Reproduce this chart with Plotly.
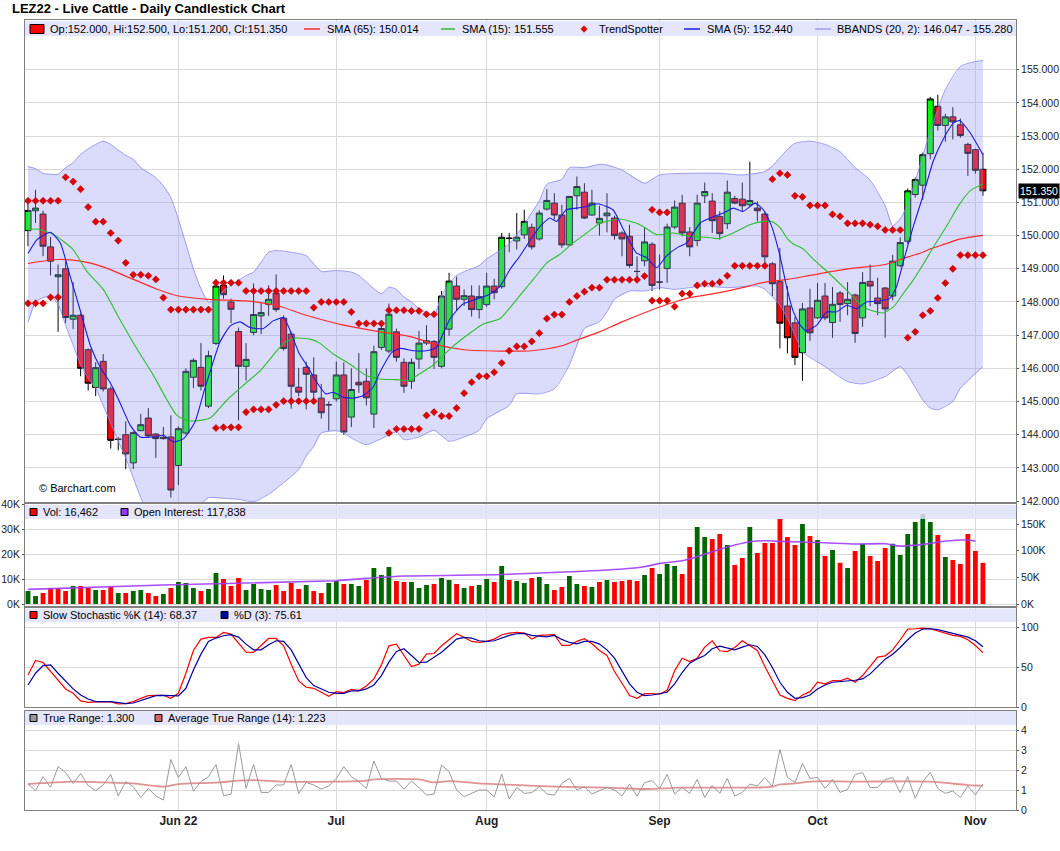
import plotly.graph_objects as go

# LEZ22 Live Cattle daily bars, 3 May 2022 .. 2 Nov 2022 (x = trading-day index)
month_ticks = [20, 41, 61, 84, 105, 126]
month_labels = ["Jun 22", "Jul", "Aug", "Sep", "Oct", "Nov"]

opens = [150.15, 150.75, 150.65, 149.66, 148.76, 149.0, 147.48, 147.6, 146.56, 145.42,
         146.21, 145.38, 143.86, 144.0, 143.15, 144.12, 144.5, 144.02, 143.88, 143.93,
         143.07, 144.05, 145.73, 146.03, 144.86, 146.75, 148.5, 148.0, 147.11, 146.06,
         147.08, 147.58, 147.92, 148.26, 147.51, 147.03, 145.43, 146.03, 145.8, 145.1,
         144.9, 145.08, 145.8, 144.53, 145.58, 145.61, 144.62, 146.63, 146.52, 147.1,
         146.18, 145.61, 146.28, 146.76, 146.81, 146.06, 147.18, 148.48, 148.08, 148.18,
         147.77, 147.92, 148.48, 148.46, 149.92, 149.84, 150.02, 150.25, 149.9, 150.8,
         150.98, 150.62, 149.72, 151.2, 151.31, 150.62, 150.38, 150.6, 150.53, 150.08,
         149.98, 148.92, 149.24, 149.74, 148.6, 149.01, 150.26, 150.98, 150.11, 149.85,
         151.2, 151.04, 150.58, 150.36, 151.12, 151.1, 150.93, 150.83, 150.65, 149.15,
         148.61, 147.88, 147.37, 146.47, 147.82, 147.52, 148.18, 147.38, 148.27, 147.95,
         148.21, 147.52, 148.62, 148.12, 148.42, 148.18, 149.09, 149.83, 151.24, 151.52,
         152.47, 153.9, 153.32, 153.58, 153.34, 152.75, 152.59, 152.0]
highs = [150.98, 151.38, 150.75, 149.96, 149.13, 149.23, 148.6, 147.65, 146.6, 146.18,
         146.43, 145.45, 143.93, 144.4, 144.1, 144.63, 144.8, 144.05, 144.23, 144.58,
         144.25, 146.0, 146.3, 146.76, 146.53, 148.68, 148.8, 148.1, 147.23, 146.76,
         148.56, 147.98, 148.5, 148.83, 147.6, 147.1, 146.01, 146.2, 146.33, 145.53,
         145.0, 146.2, 146.18, 146.0, 146.46, 146.0, 146.68, 147.43, 147.95, 147.2,
         146.3, 146.3, 147.13, 147.3, 146.85, 148.33, 148.88, 148.76, 148.38, 148.5,
         148.5, 148.88, 148.7, 150.08, 150.08, 150.68, 150.78, 150.36, 150.76, 151.4,
         151.28, 150.93, 151.2, 151.78, 151.58, 151.38, 150.9, 151.28, 150.6, 150.13,
         150.33, 149.38, 150.23, 149.8, 149.43, 150.36, 151.06, 151.23, 150.26, 151.23,
         151.6, 151.28, 150.73, 151.66, 151.2, 151.6, 152.23, 151.03, 150.73, 149.2,
         149.63, 148.48, 147.55, 147.97, 148.4, 148.57, 148.57, 148.45, 148.33, 148.6,
         148.25, 148.9, 149.13, 148.73, 148.45, 149.42, 149.95, 151.42, 151.75, 152.5,
         154.18, 154.25, 153.67, 153.87, 153.53, 152.8, 152.62, 152.5]
lows = [149.68, 150.38, 149.38, 148.8, 147.1, 147.36, 147.18, 145.76, 145.33, 145.16,
        145.3, 143.58, 143.53, 142.96, 142.96, 144.1, 143.9, 143.3, 143.85, 142.1,
        142.48, 144.0, 145.4, 145.33, 144.8, 146.7, 148.1, 147.36, 144.43, 145.63,
        147.0, 147.03, 147.58, 147.7, 146.53, 144.78, 145.16, 144.76, 145.08, 144.48,
        144.12, 145.0, 144.0, 144.23, 145.26, 144.88, 144.2, 146.55, 146.45, 146.2,
        145.26, 145.38, 145.98, 146.7, 145.98, 146.0, 146.98, 147.73, 147.88, 147.56,
        147.5, 147.85, 148.08, 148.4, 149.5, 149.58, 149.9, 149.58, 149.85, 150.75,
        150.48, 149.63, 149.7, 150.78, 150.5, 150.6, 150.0, 150.1, 149.88, 149.38,
        149.03, 148.63, 149.08, 148.33, 148.38, 148.58, 150.2, 149.98, 149.38, 149.68,
        150.98, 150.08, 149.88, 150.2, 150.95, 150.73, 150.88, 150.43, 149.18, 148.18,
        146.6, 146.45, 146.1, 145.62, 146.83, 147.5, 147.45, 146.92, 147.4, 147.6,
        146.77, 147.25, 147.87, 147.6, 146.92, 148.05, 149.05, 149.75, 151.15, 151.08,
        152.3, 153.17, 152.83, 152.9, 152.95, 151.8, 151.87, 151.2]
closes = [150.76, 150.83, 149.68, 149.23, 148.82, 147.53, 147.6, 146.0, 145.55, 146.02,
          145.38, 143.83, 143.86, 143.42, 144.06, 144.3, 143.96, 143.88, 143.92, 142.33,
          144.18, 145.91, 146.24, 145.46, 146.38, 148.48, 148.22, 147.78, 146.06, 146.27,
          147.62, 147.68, 148.08, 147.77, 146.6, 145.46, 145.28, 145.82, 145.28, 144.66,
          144.9, 145.8, 144.08, 145.36, 145.5, 145.11, 146.5, 147.2, 147.63, 146.33,
          145.46, 146.18, 146.76, 146.83, 146.33, 148.18, 148.63, 148.08, 148.19, 147.77,
          148.16, 148.48, 148.28, 149.95, 149.92, 149.95, 150.43, 149.66, 150.68, 151.06,
          150.62, 149.72, 151.18, 151.48, 150.53, 150.98, 150.52, 150.68, 150.0, 149.9,
          149.1, 148.92, 149.81, 148.5, 148.6, 150.26, 150.86, 150.08, 149.66, 150.98,
          151.33, 150.45, 150.06, 151.31, 150.98, 150.9, 151.06, 150.75, 149.36, 148.55,
          147.36, 146.92, 146.33, 147.79, 147.07, 148.05, 147.52, 147.93, 147.92, 148.08,
          147.05, 148.59, 148.48, 147.95, 147.79, 149.23, 149.79, 151.35, 151.69, 152.44,
          154.12, 153.32, 153.58, 153.43, 153.02, 152.48, 151.97, 151.35]

# moving averages and Bollinger bands (x position, value)
sma65_x = [0, 4, 7, 10, 13, 17, 20, 24, 29, 33, 37, 42, 46, 51, 54, 58, 63, 67, 71, 73,
           76, 79, 84, 86, 88, 92, 95, 97, 99, 101, 104, 109, 114, 116, 119, 120, 122, 124, 127]
sma65_y = [149.16, 149.28, 149.23, 149.06, 148.78, 148.4, 148.18, 148.08, 148.03, 147.9,
           147.6, 147.3, 147.13, 146.95, 146.73, 146.56, 146.52, 146.53, 146.68, 146.85,
           147.1, 147.4, 147.85, 148.0, 148.13, 148.28, 148.43, 148.55, 148.63, 148.68,
           148.8, 149.0, 149.13, 149.28, 149.5, 149.6, 149.75, 149.9, 150.01]
sma15_x = [0, 1.2, 3.4, 6, 7.8, 10, 12.2, 14.5, 16.7, 18.4, 19.8, 21.1, 22.9, 24.2, 25.5,
           26.4, 28.6, 30.9, 33.1, 34, 35.5, 37.5, 38.8, 40.6, 42.8, 45, 46.8, 49, 50.8, 51.5,
           53.9, 56.1, 58.3, 60.5, 62.8, 65, 67.2, 69, 70.7, 72.5, 74.3, 76.1, 77, 78.7, 81.4,
           83.6, 85.8, 88, 90.3, 91.8, 93.8, 96, 97.8, 98.9, 100, 101, 101.8, 103.1, 104.4,
           106.6, 108.9, 111.1, 112.9, 113.7, 115.1, 116.4, 117.7, 119.1, 120.4, 122.2, 123.9,
           125.3, 127]
sma15_y = [150.18, 150.2, 150.03, 149.58, 148.93, 148.38, 147.48, 146.58, 145.78, 145.08,
           144.58, 144.43, 144.43, 144.5, 144.8, 145.03, 145.48, 145.93, 146.53, 146.76,
           146.91, 146.88, 146.76, 146.43, 146.13, 145.78, 145.68, 145.66, 145.63, 145.75,
           146.1, 146.58, 146.98, 147.33, 147.5, 148.08, 148.68, 149.18, 149.43, 149.78,
           150.08, 150.38, 150.43, 150.5, 150.33, 150.03, 150.08, 149.98, 149.95, 149.91,
           150.08, 150.33, 150.43, 150.43, 150.25, 149.9, 149.75, 149.6, 149.3, 148.85,
           148.35, 147.85, 147.7, 147.67, 147.85, 148.25, 148.65, 149.15, 149.65, 150.3,
           150.95, 151.35, 151.555]
sma5_x = [0, 1.2, 3, 4.3, 5.6, 6.9, 8.3, 9.6, 10.9, 12.2, 13.6, 14.9, 16.7, 18, 19.4, 20.7,
          22.2, 23.5, 24.5, 25.5, 26.9, 28.2, 29.5, 31.3, 32.6, 34, 35.1, 36, 37.1, 38.4, 39.6,
          40.6, 41.9, 43.3, 44.6, 45.9, 46.8, 48.4, 49.5, 51.2, 53, 54.3, 56.1, 57.8, 59.6,
          61.4, 62.8, 64.1, 65.4, 66.7, 68.1, 69.4, 70.3, 71.6, 73, 74.3, 75.8, 77.8, 79.2,
          80.9, 82.3, 83.6, 84.9, 86.3, 87.6, 89.4, 90.7, 92.5, 93.8, 95.1, 96.7, 97.8, 98.9,
          100, 100.9, 101.8, 102.7, 103.5, 104.9, 106.2, 107.5, 108.9, 110.2, 111.5, 113.3,
          114.6, 115.5, 116.4, 117.7, 119.1, 120.4, 121.7, 123.1, 123.9, 125.3, 127]
sma5_y = [149.46, 149.88, 150.1, 149.78, 148.78, 147.78, 146.68, 146.03, 145.58, 144.98,
          144.28, 143.93, 143.93, 143.98, 143.78, 143.88, 144.38, 145.38, 146.1, 146.78,
          147.28, 147.4, 147.23, 147.2, 147.43, 147.53, 147.0, 146.48, 146.08, 145.58,
          145.23, 145.28, 145.13, 145.1, 145.18, 145.43, 145.88, 146.48, 146.6, 146.53,
          146.53, 146.63, 147.48, 147.93, 148.08, 148.23, 148.48, 148.98, 149.38, 149.83,
          150.28, 150.53, 150.43, 150.78, 150.83, 150.88, 150.96, 150.78, 150.18, 149.48,
          149.33, 149.03, 149.38, 149.63, 149.78, 150.38, 150.53, 150.68, 150.83, 150.73,
          150.98, 150.78, 150.28, 149.4, 148.45, 147.7, 147.3, 147.13, 147.3, 147.7,
          147.7, 147.9, 147.8, 148.0, 148.03, 148.1, 148.45, 149.2, 150.25, 151.25,
          152.25, 152.9, 153.4, 153.47, 153.1, 152.44]
bb_up_x = list(range(34)) + [35, 37, 38, 39, 41, 43, 44, 45, 46, 47, 48, 49, 50, 51, 52, 54,
          55, 57, 60, 61, 64, 66, 68, 69, 71, 72, 74, 76, 77, 79, 82, 84, 88, 92, 95, 98, 99,
          100, 101, 102, 104, 106, 108, 110, 112, 114, 115, 116, 117, 118, 119, 120, 122, 124,
          126, 127]
bb_up_y = [152.08, 152.02, 151.88, 151.85, 151.85, 152.05, 152.2, 152.45, 152.62, 152.75,
           152.85, 152.75, 152.58, 152.42, 152.3, 152.05, 151.9, 151.75, 151.5, 151.15,
           150.5, 149.75, 149.0, 148.4, 148.0, 148.05, 148.35, 148.5, 148.65, 148.8,
           148.9, 149.2, 149.5, 149.55, 149.5, 149.4, 149.15, 148.92, 148.95, 148.9,
           148.8, 148.6, 148.4, 148.25, 148.45, 148.38, 148.15, 148.0, 147.8, 147.6,
           148.2, 148.8, 149.1, 149.3, 149.75, 150.35, 151.05, 151.55, 151.7, 152.05,
           152.05, 152.15, 152.13, 151.98, 151.58, 151.83, 151.88, 151.88, 151.83, 151.93,
           152.1, 152.35, 152.6, 152.78, 152.85, 152.75, 152.53, 152.05, 151.67, 150.9,
           150.3, 150.5, 150.95, 151.65, 152.4, 153.15, 154.4, 155.1, 155.25, 155.28]
bb_lo_x = list(range(17)) + [18, 20, 22, 23, 24, 26, 28, 30, 32, 34, 36, 37, 38, 39, 41, 42,
          43, 45, 47, 49, 50, 52, 54, 56, 58, 60, 61, 64, 65, 68, 70, 72, 74, 76, 77, 78, 80,
          82, 84, 86, 88, 90, 93, 97, 98, 100, 101, 102, 103, 106, 109, 111, 114, 116, 117,
          119, 120, 121, 123, 124, 127]
bb_lo_y = [147.38, 148.0, 148.13, 148.18, 147.93, 147.3, 146.7, 146.1, 145.7, 145.4,
           144.88, 144.35, 143.8, 143.3, 142.7, 142.1, 141.6, 141.1, 141.1, 141.6,
           141.9, 142.1, 142.08, 142.05, 141.98, 142.2, 142.55, 142.95, 143.35, 143.65,
           144.05, 144.12, 144.05, 143.9, 143.7, 143.88, 144.08, 143.85, 143.93, 144.13,
           143.8, 143.93, 144.13, 144.48, 144.88, 145.23, 145.23, 145.38, 146.1, 147.2,
           147.4, 147.7, 148.08, 148.33, 148.33, 148.43, 148.38, 148.43, 148.48, 148.43,
           148.48, 148.38, 147.9, 147.5, 147.0, 146.5, 146.05, 145.6, 145.53, 145.75,
           146.05, 145.8, 145.05, 144.8, 144.75, 145.0, 145.4, 146.05]

N = None
ts_upper = [151.05, 151.05, 151.05, 151.05, 151.05, 151.76, 151.63, 151.4, 150.86, 150.42,
            150.42, 150.08, 149.85, 149.18, 148.82, 148.82, 148.79, 148.68, 148.13, 147.77,
            147.77, 147.77, 147.77, 147.77, 147.77, 148.58, 148.58, 148.58, 148.58, 148.33,
            148.33, 148.33, 148.33, 148.33, 148.33, 148.33, 148.33, 148.33, 147.83, 148.0,
            148.0, 148.0, 148.0, 147.7, 147.35, 147.35, 147.35, 147.35, 147.75, 147.75,
            147.75, 147.73, 147.73, 147.63, 147.63, N, N, N, N, N,
            N, N, N, N, N, N, N, N, N, N,
            N, N, N, N, N, N, N, N, N, N,
            N, N, N, 150.78, 150.7, 150.7, N, N, N, N,
            N, N, N, N, N, N, N, N, N, 151.7,
            151.88, 151.83, 151.2, 151.17, 150.91, 150.91, 150.91, 150.64, 150.58, 150.37,
            150.37, 150.37, 150.33, 150.28, 150.17, 150.17, 150.17, N, N, N,
            N, N, N, N, N, N, N, N]
ts_lower = [147.96, 147.96, 147.96, 148.14, 148.14, N, N, N, N, N,
            N, N, N, N, N, N, N, N, N, N,
            N, N, N, N, N, 144.2, 144.22, 144.22, 144.22, 144.68,
            144.76, 144.76, 144.76, 144.9, 145.01, 145.01, 145.01, 145.01, 145.01, N,
            N, N, N, N, N, N, N, N, 144.05, 144.17,
            144.17, 144.17, 144.17, 144.58, 144.68, 144.56, 144.56, 144.8, 145.25, 145.58,
            145.76, 145.76, 145.88, 146.16, 146.53, 146.66, 146.66, 146.81, 147.06, 147.5,
            147.62, 147.62, 148.0, 148.18, 148.31, 148.43, 148.43, 148.67, 148.67, 148.67,
            148.67, 148.67, 148.78, 148.04, 148.04, 148.04, 147.86, 148.25, 148.25, 148.5,
            148.55, 148.55, 148.6, 148.79, 149.09, 149.09, 149.09, 149.09, 149.09, N,
            N, N, N, N, N, N, N, N, N, N,
            N, N, N, N, N, N, N, 146.92, 147.1, 147.6,
            147.73, 148.12, 148.57, 149.0, 149.41, 149.41, 149.41, 149.41]

# volume in thousands, g/r = up/down day
vol_k = [5.2, 3.2, 4.4, 6.4, 6.4, 5.2, 7.2, 7.2, 6.4, 5.6, 5.6, 6.8, 4.4, 4.4, 5.2, 5.6, 4.4, 3.2, 4.0, 6.4,
         8.8, 8.4, 6.4, 5.2, 6.0, 12.4, 10.0, 7.2, 10.4, 5.6, 8.0, 6.0, 5.6, 7.6, 5.2, 8.4, 6.0, 7.6, 5.2, 4.4,
         8.4, 9.2, 8.0, 8.0, 7.2, 9.6, 14.4, 11.6, 14.8, 9.2, 8.8, 8.8, 6.4, 7.6, 8.0, 10.4, 9.6, 8.0, 6.4, 7.2,
         7.6, 10.0, 8.8, 15.2, 9.6, 9.2, 8.4, 10.4, 10.8, 8.0, 5.6, 6.8, 11.2, 8.0, 7.2, 6.8, 8.8, 9.6, 8.8, 9.2,
         9.6, 9.2, 11.6, 14.4, 12.0, 16.0, 15.2, 12.0, 22.8, 30.8, 26.8, 26.0, 28.0, 23.6, 15.6, 18.4, 30.8, 20.4, 24.4, 24.4,
         34.0, 26.8, 23.6, 32.0, 27.2, 25.6, 19.2, 21.6, 16.5, 14.4, 21.2, 24.1, 19.2, 17.2, 22.4, 24.1, 19.6, 28.0, 32.8, 36.0,
         32.8, 27.6, 18.8, 17.6, 16.0, 28.0, 21.2, 16.462]
vol_dir = ("ggrrrrgrrg" "rrgrggrrgr" "gggrggrrrg" "gggrrrrgrr" "ggrggrgggr" "rgggrggrgr"
           "ggrgrggrgg" "rrggrgrgrr" "rrgrgggrrg" "grrgrrgrrr" "rrrgrgrgrg" "rgrrrggggg" "grgrrrrr")
oi_x = [0, 18, 41, 45, 50, 63, 72, 77, 82, 84, 87, 89, 91, 94, 96, 98, 100, 106, 110, 114, 116, 120, 122, 125, 126]
oi_k = [27.5, 35.6, 43.7, 48, 52.4, 55.3, 60.5, 63.7, 69.9, 76.2, 81, 88.6, 98, 110.5, 116.7, 118.6,
        117.5, 114.8, 112.4, 113, 108.6, 113.6, 118, 119.9, 117.838]

stoch_k = [40.3, 58.4, 55.9, 44.5, 32.8, 22.7, 17.2, 7.6, 5.9, 6.7, 6.7, 6.3, 3.8, 4.2, 6.7, 10.9, 14.3, 14.7, 14.7, 10.9,
           17.2, 42.4, 71, 85.3, 87.4, 87.4, 93.7, 91.6, 80.3, 68.9, 68.5, 77.3, 86.1, 86.1, 76.9, 53.8, 32.8, 24.8, 23.5, 18.5,
           13.4, 19.3, 18.1, 22.3, 20.6, 26.5, 35.3, 52.9, 76.9, 79, 64.3, 50.8, 53.8, 66.4, 67.2, 76.9, 84.5, 92, 87.4, 82.4,
           81.1, 82.4, 85.3, 90.8, 92.9, 93.7, 92.9, 85.3, 89.9, 89.9, 90.8, 77.3, 77.3, 82.4, 85.7, 79.4, 71, 64.7, 44.5, 29.8,
           14.3, 10.9, 16.8, 16.8, 16, 21, 45.4, 61.3, 57.1, 61.3, 75.2, 83.2, 70.6, 69.7, 74.8, 83.2, 77.3, 71, 50.8, 31.9,
           15.1, 10.9, 8.0, 15.1, 19.3, 31.1, 29, 33.2, 32.8, 36.1, 31.1, 39.5, 50.8, 62.6, 64.3, 71.8, 84.5, 97.9, 98.3, 99.2,
           98.3, 95.8, 92.9, 89.9, 88.7, 84.5, 77.3, 68.37]
stoch_d = [27.7, 42.4, 52.1, 52.9, 42.4, 31.9, 22.7, 15.1, 10.1, 6.7, 6.7, 6.7, 5.5, 4.2, 5.0, 8.0, 11.8, 14.3, 14.7, 13.9,
           13.9, 23.5, 46.6, 66.4, 82.4, 86.6, 89.5, 90.8, 87.8, 79, 71.8, 71.8, 78.2, 83.2, 82.4, 71.8, 53.8, 37, 26.9, 22.3,
           18.5, 17.2, 17.2, 20.2, 20.2, 22.7, 27.7, 39.5, 56.3, 69.7, 73.1, 64.7, 55.9, 56.3, 62.2, 68.9, 76.9, 85.3, 87.4, 86.6,
           83.2, 82.4, 83.2, 86.6, 89.9, 92, 92.4, 89.9, 88.7, 88.2, 89.9, 84.9, 81.1, 79.4, 82.4, 82.4, 79, 71.8, 61.3, 45.4,
           29, 18.5, 14.3, 15.1, 16.4, 18.5, 29, 43.3, 55, 60.5, 64.7, 73.1, 76.5, 73.9, 71.8, 75.2, 78.2, 76.1, 65.5, 49.6,
           31.1, 18.5, 10.9, 11.8, 15.1, 22.7, 27.7, 31.1, 31.9, 33.6, 33.6, 35.3, 41.6, 50.8, 60.1, 66.4, 74.8, 84.5, 92.9, 97.9,
           98.3, 97.1, 95, 92, 89.9, 87.8, 83.2, 75.61]
true_range = [1.3, 0.97, 1.67, 1.13, 2.17, 1.88, 1.33, 1.83, 1.22, 0.97, 1.25, 1.78, 0.7, 1.42, 1.17, 0.62, 1.08, 0.7, 0.5, 2.53,
              1.62, 2.17, 0.95, 1.42, 1.67, 2.28, 0.72, 0.78, 3.33, 1.08, 2.28, 0.88, 0.88, 1.25, 1.25, 2.28, 0.83, 1.38, 1.25, 1.05,
              1.2, 1.58, 2.17, 1.67, 1.42, 1.08, 2.45, 1.58, 1.45, 1.45, 1.05, 1.45, 1.12, 0.75, 0.8, 2.25, 1.92, 1.0, 0.67, 0.83,
              1.0, 1.0, 0.65, 1.8, 0.55, 1.12, 0.83, 0.87, 1.17, 0.8, 0.75, 1.33, 1.58, 1.0, 1.17, 0.8, 0.95, 1.13, 1.0, 0.7,
              1.3, 0.7, 1.37, 1.47, 1.08, 1.78, 0.8, 1.13, 0.83, 1.53, 0.63, 1.23, 0.83, 1.58, 0.7, 0.88, 1.3, 1.2, 1.63, 1.17,
              3.03, 1.63, 1.38, 2.33, 1.58, 1.63, 1.08, 1.53, 0.88, 1.03, 1.78, 1.87, 1.12, 1.13, 1.53, 1.62, 0.87, 1.67, 0.58, 1.42,
              1.88, 1.08, 0.83, 0.95, 0.63, 1.2, 0.75, 1.3]
atr_x = [0, 6, 10, 14, 18, 20, 25, 28, 30, 34, 41, 45, 46, 52, 54, 56, 60, 63, 70, 77, 82, 87, 96, 99,
         100, 102, 104, 106, 110, 120, 125, 127]
atr_y = [1.3, 1.42, 1.38, 1.33, 1.17, 1.3, 1.37, 1.47, 1.5, 1.42, 1.42, 1.47, 1.53, 1.53, 1.38, 1.45,
         1.33, 1.28, 1.17, 1.12, 1.05, 1.12, 1.12, 1.17, 1.28, 1.33, 1.42, 1.45, 1.42, 1.42, 1.25, 1.223]

# page geometry (pixels) of the Barchart layout
W, H = 1060, 851
ML, MR, MT, MB = 25, 44, 20, 41
PW, PH = W - ML - MR, H - MT - MB
FONT = "Liberation Sans, Arial, sans-serif"
GRID = "#d9d9d9"
FRAME = "#808080"


def px(x):
    return (x - ML) / PW


def py(y):
    return (H - MB - y) / PH


def priceTraces(days):
    traces = []
    traces.append(go.Scatter(x=bb_up_x + bb_lo_x[::-1], y=bb_up_y + bb_lo_y[::-1], fill="toself",
                             fillcolor="rgba(150,150,245,0.34)", line=dict(width=0), mode="lines",
                             hoverinfo="skip"))
    for bx, by in ((bb_up_x, bb_up_y), (bb_lo_x, bb_lo_y)):
        traces.append(go.Scatter(x=bx, y=by, mode="lines", hoverinfo="skip",
                                 line=dict(color="rgba(135,135,240,0.8)", width=1, shape="spline", smoothing=0.6)))
    traces.append(go.Scatter(x=sma65_x, y=sma65_y, mode="lines",
                             line=dict(color="#ff2a2a", width=1.2, shape="spline", smoothing=0.8)))
    traces.append(go.Scatter(x=sma15_x, y=sma15_y, mode="lines",
                             line=dict(color="#2cc02c", width=1.1, shape="spline", smoothing=0.6)))
    traces.append(go.Scatter(x=sma5_x, y=sma5_y, mode="lines",
                             line=dict(color="#1a1ae0", width=1.1, shape="spline", smoothing=0.5)))
    traces.append(go.Candlestick(x=days, open=opens, high=highs, low=lows, close=closes, whiskerwidth=0,
                                 increasing=dict(line=dict(color="black", width=1), fillcolor="#00ff00"),
                                 decreasing=dict(line=dict(color="black", width=1), fillcolor="#ff0000")))
    for ts in (ts_upper, ts_lower):
        traces.append(go.Scatter(x=days, y=ts, mode="markers",
                                 marker=dict(symbol="diamond", size=5.5, color="#e00000",
                                             line=dict(color="#a00000", width=0.5))))
    return traces


def lowerTraces(days):
    colors = ["#006600" if c == "g" else "#ff0000" for c in vol_dir]
    return [
        go.Bar(x=days, y=vol_k, marker=dict(color=colors, line=dict(width=0)), width=0.64,
               xaxis="x2", yaxis="y2"),
        go.Scatter(x=oi_x, y=oi_k, mode="lines", xaxis="x2", yaxis="y3",
                   line=dict(color="rgba(160,60,255,0.9)", width=1.6, shape="spline", smoothing=0.6)),
        go.Scatter(x=days, y=stoch_k, mode="lines", xaxis="x3", yaxis="y4",
                   line=dict(color="#ff0000", width=1.2)),
        go.Scatter(x=days, y=stoch_d, mode="lines", xaxis="x3", yaxis="y4",
                   line=dict(color="#0000a0", width=1.2)),
        go.Scatter(x=atr_x, y=atr_y, mode="lines", xaxis="x4", yaxis="y5",
                   line=dict(color="rgba(215,110,110,0.75)", width=1.8, shape="spline", smoothing=0.8)),
        go.Scatter(x=days, y=true_range, mode="lines", xaxis="x4", yaxis="y5",
                   line=dict(color="#9a9a9a", width=1)),
    ]


def text(x, y, s, size=11, color="black", family=FONT):
    return dict(x=px(x), y=py(y), xref="paper", yref="paper", text=s, showarrow=False,
                xanchor="left", yanchor="middle", font=dict(family=family, size=size, color=color))


def box(x0, x1, y0, y1, fill, line="black"):
    return dict(type="rect", xref="paper", yref="paper", x0=px(x0), x1=px(x1), y0=py(y1), y1=py(y0),
                fillcolor=fill, line=dict(color=line, width=1), layer="above")


def legendLine(x0, x1, y, color):
    return dict(type="line", xref="paper", yref="paper", x0=px(x0), x1=px(x1), y0=py(y), y1=py(y),
                line=dict(color=color, width=1.5), layer="above")


def buildLayout():
    xr = [-0.4, 131.4]
    xbase = dict(range=xr, tickvals=month_ticks, showticklabels=False, showgrid=True, gridcolor=GRID,
                 zeroline=False, showline=True, linecolor=FRAME, mirror=True, ticks="", fixedrange=True,
                 automargin=False)
    ybase = dict(showgrid=True, gridcolor=GRID, zeroline=False, showline=True, linecolor=FRAME, mirror=True,
                 ticks="outside", ticklen=2, tickcolor="#555", automargin=False, fixedrange=True,
                 tickfont=dict(family=FONT, size=10.5, color="#222"))
    price_ticks = list(range(142, 156))

    layout = dict(
        width=W, height=H, margin=dict(l=ML, r=MR, t=MT, b=MB, autoexpand=False),
        paper_bgcolor="white", plot_bgcolor="white", boxgap=0.2, boxgroupgap=0,
        showlegend=False, font=dict(family=FONT, size=11, color="#222"),
        xaxis=dict(xbase, anchor="y", rangeslider=dict(visible=False)),
        xaxis2=dict(xbase, anchor="y2", matches="x"),
        xaxis3=dict(xbase, anchor="y4", matches="x"),
        xaxis4=dict(xbase, anchor="y5", matches="x", showticklabels=True,
                    ticktext=["<b>%s</b>" % m for m in month_labels],
                    tickfont=dict(family=FONT, size=12, color="#222")),
        yaxis=dict(ybase, domain=[py(502), 1.0], side="right", range=[141.97, 156.5],
                   tickvals=price_ticks, ticktext=["%.3f" % v for v in price_ticks]),
        yaxis2=dict(ybase, domain=[py(606), py(504)], side="left", anchor="x2", range=[-0.8, 40.0],
                    tickvals=[0, 10, 20, 30, 40], ticktext=["0K", "10K", "20K", "30K", "40K"]),
        yaxis3=dict(ybase, overlaying="y2", side="right", anchor="x2", range=[-3.75, 187.5], showgrid=False,
                    tickvals=[0, 50, 100, 150], ticktext=["0K", "50K", "100K", "150K"]),
        yaxis4=dict(ybase, domain=[py(707), py(607.5)], side="right", anchor="x3", range=[0, 125],
                    tickvals=[0, 50, 100]),
        yaxis5=dict(ybase, domain=[0.0, py(710.5)], side="right", anchor="x4", range=[0, 4.98],
                    tickvals=[0, 1, 2, 3, 4]),
    )

    band = "rgb(224,224,250)"
    shapes = []
    for top, bot in ((21, 36), (505, 519), (608.5, 622), (711, 725)):
        shapes.append(dict(type="rect", xref="paper", yref="paper", x0=0, x1=1, y0=py(bot), y1=py(top),
                           fillcolor=band, opacity=0.85, line=dict(width=0), layer="above"))
    # main legend icons
    shapes.append(box(30, 44, 24.5, 33.5, "#ff0000"))
    shapes.append(legendLine(304, 320, 29, "#ff2a2a"))
    shapes.append(legendLine(441, 455, 29, "#2cc02c"))
    shapes.append(dict(type="path", xref="paper", yref="paper", fillcolor="#e00000", line=dict(width=0),
                       layer="above", path="M %f,%f L %f,%f L %f,%f L %f,%f Z" % (
                           px(584), py(25.5), px(587.5), py(29), px(584), py(32.5), px(580.5), py(29))))
    shapes.append(legendLine(684, 700, 29, "#1a1ae0"))
    shapes.append(legendLine(815, 831, 29, "#9c9cf5"))
    # lower panels legend icons
    shapes.append(box(30, 37, 508.5, 515.5, "#ff0000"))
    shapes.append(box(121, 128, 508.5, 515.5, "#9933ff"))
    shapes.append(box(30, 37, 611.5, 618.5, "#ff0000"))
    shapes.append(box(221, 228, 611.5, 618.5, "#0000a0"))
    shapes.append(box(30, 37, 714.5, 721.5, "#999999"))
    shapes.append(box(155, 162, 714.5, 721.5, "#cc6666"))
    layout["shapes"] = shapes

    layout["annotations"] = [
        text(10, 9, "<b>LEZ22 - Live Cattle - Daily Candlestick Chart</b>", size=13),
        text(48, 29, "Op:152.000, Hi:152.500, Lo:151.200, Cl:151.350"),
        text(325, 29, "SMA (65): 150.014"),
        text(460, 29, "SMA (15): 151.555"),
        text(597, 29, "TrendSpotter"),
        text(705, 29, "SMA (5): 152.440"),
        text(835, 29, "BBANDS (20, 2): 146.047 - 155.280"),
        text(37, 488, "© Barchart.com"),
        text(41, 512, "Vol: 16,462"),
        text(132, 512, "Open Interest: 117,838"),
        text(41, 615, "Slow Stochastic %K (14): 68.37"),
        text(232, 615, "%D (3): 75.61"),
        text(41, 718, "True Range: 1.300"),
        text(166, 718, "Average True Range (14): 1.223"),
        dict(x=px(1018), y=151.35, xref="paper", yref="y", text="151.350", showarrow=False, xanchor="left",
             yanchor="middle", bgcolor="black", borderpad=1, font=dict(family=FONT, size=10.5, color="white")),
    ]
    return layout


def main():
    days = list(range(len(closes)))
    for series in (opens, highs, lows, vol_k, vol_dir, ts_upper, ts_lower, stoch_k, stoch_d, true_range):
        assert len(series) == len(days)
    assert len(bb_up_x) == len(bb_up_y) and len(bb_lo_x) == len(bb_lo_y)
    fig = go.Figure(data=priceTraces(days) + lowerTraces(days))
    fig.update_layout(buildLayout())
    # the Barchart image has no page margin around the chart
    fig.write_html("out.html", config={"displayModeBar": False},
                   post_script="document.body.style.margin='0';document.body.style.overflow='hidden';")


if __name__ == "__main__":
    main()
